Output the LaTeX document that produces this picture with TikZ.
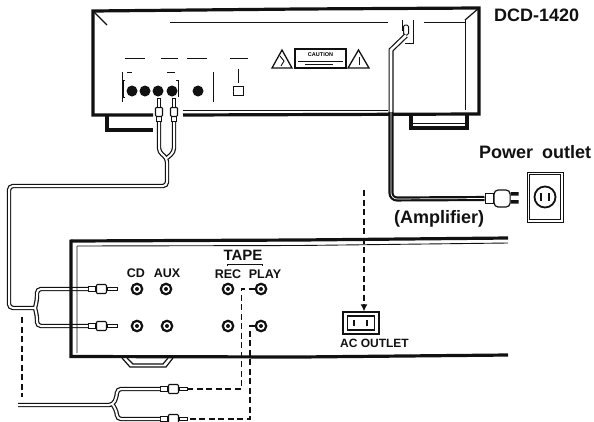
\documentclass[tikz,border=0pt]{standalone}
\usepackage{fontspec}
\setmainfont{Liberation Sans}
\usetikzlibrary{arrows.meta,positioning,calc}
\definecolor{ink}{HTML}{111111}
\tikzset{
  x=1pt,y=-1pt,
  wall/.style={draw=ink,line width=3.2pt},
  rule/.style={draw=ink,line width=0.9pt},
  cable/.style={draw=ink,line width=1.2pt,double=white,double distance=2pt,rounded corners=4pt},
  powercable/.style={draw=ink,line width=2.2pt,double=white,double distance=0.7pt,rounded corners=6pt},
  dashline/.style={draw=ink,line width=1.3pt,dash pattern=on 6pt off 3.5pt},
  lab/.style={font=\bfseries\fontsize{12.5}{14}\selectfont,text=ink,inner sep=0pt},
  biglab/.style={font=\bfseries\fontsize{18}{20}\selectfont,text=ink,inner sep=0pt},
  jack/.style={circle,draw=ink,line width=2.2pt,fill=white,minimum size=10.5pt,inner sep=0pt},
  knob/.style={circle,fill=ink,minimum size=11pt,inner sep=0pt},
  warnline/.style={draw=ink,line width=1.3pt,line join=miter},
  plugcollar/.style={draw=ink,line width=0.9pt,fill=white,minimum width=7pt,minimum height=5pt,inner sep=0pt},
  plugbody/.style={draw=ink,line width=1.1pt,fill=white,minimum width=10pt,minimum height=9pt,inner sep=0pt,rounded corners=1pt},
  plugtip/.style={draw=ink,line width=0.9pt,fill=white,minimum width=10pt,minimum height=2.5pt,inner sep=0pt},
}
\begin{document}
\begin{tikzpicture}
  \useasboundingbox (0,0) rectangle (594,421);
  % signal cables go under the walls
  \coordinate (turnup) at (167,186);
  \coordinate (turnleft) at (9,186);
  \coordinate (splitup) at (167,158);
  \coordinate (splitamp) at (35,308);
  \node[plugcollar,rotate=90,anchor=west] (ucollar1) at (159,122) {};
  \node[plugbody,rotate=90,anchor=west,minimum width=9pt,minimum height=7pt] (ubody1) at (159,117) {};
  \node[plugtip,rotate=90,anchor=west,minimum width=9pt] (utip1) at (159,108) {};
  \node[plugcollar,rotate=90,anchor=west] (ucollar2) at (174,122) {};
  \node[plugbody,rotate=90,anchor=west,minimum width=9pt,minimum height=7pt] (ubody2) at (174,117) {};
  \node[plugtip,rotate=90,anchor=west,minimum width=9pt] (utip2) at (174,108) {};
  \node[plugcollar,anchor=west] (acollar1) at (88,289) {};
  \node[plugbody,right=0pt of acollar1] (abody1) {};
  \node[plugtip,right=0pt of abody1] (atip1) {};
  \node[plugcollar,anchor=west] (acollar2) at (88,326) {};
  \node[plugbody,right=0pt of acollar2] (abody2) {};
  \node[plugtip,right=0pt of abody2] (atip2) {};
  \draw[cable] (ucollar1.west) -- ++(0,30) -- (splitup) -- (turnup) -- (turnleft) |- (splitamp)
    (ucollar2.west) -- ++(0,30) -- (splitup)
    (acollar1.west) -| (37,300) -- (splitamp)
    (acollar2.west) -| (37,316) -- (splitamp);
  % amplifier
  \draw[wall] (71,241) -- (300,240) -- (508,238);
  \draw[wall] (71,239.5) -- (71,356.5) -- (300,357) -- (508,355);
  \draw[rule] (77,246) -- (300,245.5) -- (508,243) (77,246) -- (77,353);
  \draw[rule,line width=1.2pt] (122,358) -- (130,367) -- (166,367) -- (173,358)
    (127,358) -- (133,364) -- (163,364) -- (168,358);
  % player
  \draw[wall,line join=miter] (153,115) -- (93,115) -- (93,11) -- (300,9) -- (479,8) -- (479,114) -- (183,115);
  \draw[rule,line width=1.2pt] (93,11) -- (107,25) (479,8) -- (465,20);
  \draw[rule] (170,22) -- (388,22) (424,22) -- (465,22) (465,20) -- (465,110);
  \draw[rule] (183,110) -- (388,110);
  \draw[wall] (107,115) -- (107,130) -- (153,130);
  \draw[wall] (411,114) -- (411,128) -- (467,128) -- (467,114);
  \draw[rule] (413,123) -- (465,123);
  \foreach \xa/\xb in {125/145,161/178,187/207,230/248} \draw[rule] (\xa,58) -- (\xb,58);
  \draw[rule] (125,80) -- (123,80) -- (123,97) -- (125,97);
  \draw[rule] (176,80) -- (178,80) -- (178,97);
  \draw[rule] (122,72) -- (122,102) (213,72) -- (213,102);
  \draw[rule] (127,72) -- (132,72) (167,72) -- (175,72);
  \node[knob] (knob1) at (132,91) {};
  \node[knob] (knob2) at (145,91) {};
  \node[knob] (knob3) at (158,91) {};
  \node[knob] (knob4) at (172,91) {};
  \node[knob] (knob5) at (198,91) {};
  \node[draw=ink,line width=1pt,minimum width=10pt,minimum height=9pt,inner sep=0pt] (pwrbtn) at (238,90.5) {};
  \draw[rule] (238,69) -- (238,83);
  % warning labels
  \draw[warnline] (272,68) -- (282,50) -- (292,68) -- cycle;
  \draw[rule] (280,56) -- (284,61) -- (281,66);
  \node[draw=ink,line width=1.3pt,minimum width=51pt,minimum height=19pt,inner sep=0pt] (caution) at (320.5,58.5) {};
  \node[font=\bfseries\fontsize{5.5}{6}\selectfont,inner sep=0pt,above=2pt of caution.center] (cautiontxt) {CAUTION};
  \draw[draw=ink,line width=0.7pt] (298,61) -- (343,61) (305,64.5) -- (333,64.5);
  \draw[warnline] (348,68) -- (358.5,50) -- (369,68) -- cycle;
  \draw[rule] (359,57) -- (359,65);
  % power cable
  \node[draw=ink,line width=1pt,fill=white,rounded corners=1.5pt,minimum width=5pt,minimum height=10pt,inner sep=0pt] (socketplug) at (406,30) {};
  \draw[rule] (402,20) -- (402,31) (413,20) -- (413,43) -- (405,43);
  \coordinate (cablebend) at (391,50);
  \coordinate (cablecorner) at (391,199);
  \node[draw=ink,line width=1pt,fill=white,minimum width=8pt,minimum height=10pt,inner sep=0pt] (plugneck) at (489,198.5) {};
  \node[draw=ink,line width=1.2pt,fill=white,rounded corners=4pt,minimum width=16pt,minimum height=17pt,inner sep=0pt,right=0pt of plugneck] (plughead) {};
  \fill[ink] (plughead.east) ++(0,-6.5) rectangle ++(8,3.5) (plughead.east) ++(0,1.5) rectangle ++(8,3.5);
  \draw[draw=ink,line width=1.2pt,double=white,double distance=2.6pt] (socketplug.south) -- (cablebend) -- (391,112);
  \draw[powercable] (391,112) -- (cablecorner) -- (plugneck.west);
  % power outlet
  \node[draw=ink,line width=1pt,minimum width=36pt,minimum height=50pt,inner sep=0pt] (wallplate) at (545,197) {};
  \node[draw=ink,line width=0.7pt,minimum width=31pt,minimum height=45pt,inner sep=0pt] at (wallplate) {};
  \node[circle,draw=ink,line width=1.8pt,minimum size=21pt,inner sep=0pt] (wallsocket) at (wallplate) {};
  \draw[ink,line width=1.8pt] (541,193) -- (541,201) (549,193) -- (549,201);
  % ac outlet
  \node[draw=ink,line width=1.3pt,minimum width=36pt,minimum height=22pt,inner sep=0pt] (acbox) at (361,323) {};
  \node[draw=ink,line width=1.3pt,minimum width=27pt,minimum height=14pt,inner sep=0pt] at (acbox) {};
  \draw[ink,line width=2pt] (354,320) -- (354,326) (367,320) -- (367,326);
  % texts
  \node[biglab,anchor=west] (model) at (494,15) {DCD-1420};
  \node[biglab,anchor=west] (outlet) at (479,152) {Power\hspace{0.5em}outlet};
  \node[biglab,anchor=west] (ampname) at (394,219) {(Amplifier)};
  \node[lab] (cdlab) at (136,273) {CD};
  \node[lab] (auxlab) at (167,273) {AUX};
  \node[lab,font=\bfseries\fontsize{15}{17}\selectfont] (tapelab) at (243,255) {TAPE};
  \node[lab] (reclab) at (228,274) {REC};
  \node[lab] (playlab) at (265,274) {PLAY};
  \draw[rule] (227,266) -- (227,264) -- (262,264) -- (262,266);
  \node[lab,font=\bfseries\fontsize{12}{14}\selectfont] (aclab) at (374.5,343) {AC OUTLET};
  % jacks
  \foreach \n/\x/\y in {a/137/289,b/166/289,c/228/289,d/261/289,e/137/326,f/167/326,g/228/326,h/261/326} {
    \node[jack] (j\n) at (\x,\y) {};
    \fill[ink] (j\n) circle (2);
  }
  % tape cable below the amplifier
  \coordinate (splittape) at (113,405);
  \coordinate (tapeend) at (18,405);
  \node[plugcollar,anchor=west] (tcollar1) at (160,389) {};
  \node[plugbody,right=0pt of tcollar1] (tbody1) {};
  \node[plugtip,right=0pt of tbody1,minimum width=8pt] (ttip1) {};
  \node[plugcollar,anchor=west] (tcollar2) at (160,419) {};
  \node[plugbody,right=0pt of tcollar2] (tbody2) {};
  \node[plugtip,right=0pt of tbody2,minimum width=8pt] (ttip2) {};
  \draw[cable] (tapeend) -- (splittape) -- (117,396) |- (tcollar1.west)
    (splittape) -- (117,412) |- (tcollar2.west);
  % dashed tape lines
  \coordinate (turnrec) at (241.5,389);
  \coordinate (turnplay) at (250,419);
  \coordinate (dashtop) at (22,317);
  \coordinate (dashend) at (22,397);
  \draw[dashline] (dashtop) -- (dashend);
  \draw[dashline] (jd.west) -| (turnrec) -- (ttip1.east);
  \draw[dashline] (jh.west) -| (turnplay) -- (ttip2.east);
  \coordinate (cordtop) at (364,190);
  \draw[dashline,-{Latex[length=7pt,width=7pt]}] (cordtop) -- (acbox.north -| cordtop);
\end{tikzpicture}
\end{document}
